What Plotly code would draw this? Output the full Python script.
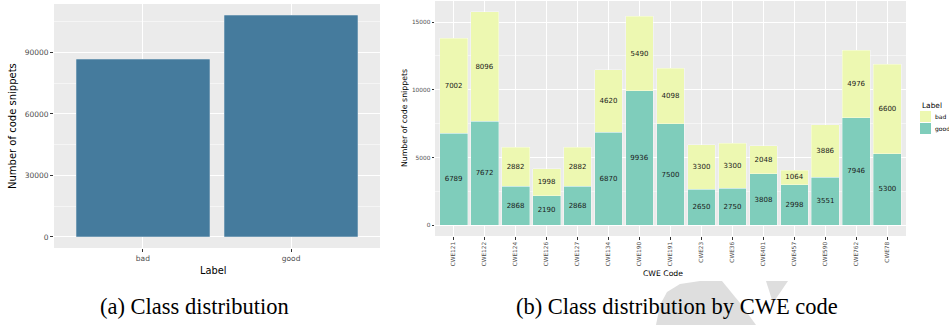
import plotly.graph_objects as go

# ---- data -----------------------------------------------------------------
labels = ["bad", "good"]
label_counts = [86600, 108200]

cwe_codes = ["CWE121", "CWE122", "CWE124", "CWE126", "CWE127", "CWE134",
             "CWE190", "CWE191", "CWE23", "CWE36", "CWE401", "CWE457",
             "CWE590", "CWE762", "CWE78"]
good_counts = [6789, 7672, 2868, 2190, 2868, 6870, 9936, 7500,
               2650, 2750, 3808, 2998, 3551, 7946, 5300]
bad_counts = [7002, 8096, 2882, 1998, 2882, 4620, 5490, 4098,
              3300, 3300, 2048, 1064, 3886, 4976, 6600]

captions = ["(a) Class distribution", "(b) Class distribution by CWE code"]

# ---- styling ----------------------------------------------------------------
W, H = 949, 325
PANEL_BG = "#EBEBEB"
BAR_BLUE = "#457B9D"
GOOD_COL = "#7FCDBB"
BAD_COL = "#EDF8B1"
SANS = "DejaVu Sans"
SERIF = "Liberation Serif"
TICK_GREY = "#4D4D4D"


def px(x):
    return x / W


def py(y):
    return 1 - y / H


fig = go.Figure()

# (a) overall class distribution
fig.add_trace(go.Bar(
    x=labels, y=label_counts, xaxis="x", yaxis="y",
    marker=dict(color=BAR_BLUE, line=dict(color="rgba(255,255,255,0.3)", width=0.8)),
    width=0.9, showlegend=False, hoverinfo="x+y",
))

# (b) stacked counts per CWE code: good at the bottom, bad on top
for name, vals, col in (("good", good_counts, GOOD_COL), ("bad", bad_counts, BAD_COL)):
    fig.add_trace(go.Bar(
        x=cwe_codes, y=vals, name=name, xaxis="x2", yaxis="y2",
        marker=dict(color=col, line=dict(color="rgba(255,255,255,0.45)", width=0.8)),
        width=0.9, showlegend=False,
        texttemplate="%{y:.0f}", textposition="inside", insidetextanchor="middle",
        textangle=0, constraintext="none",
        textfont=dict(family=SANS, size=7, color="#1A1A1A"),
    ))

max_a = max(label_counts)
totals = [g + b for g, b in zip(good_counts, bad_counts)]
max_b = max(totals)

common_x = dict(type="category", showgrid=True, gridcolor="white", gridwidth=1,
                ticks="outside", tickcolor="#333333", tickwidth=0.8,
                zeroline=False, showline=False, fixedrange=True)
common_y = dict(showgrid=True, gridcolor="white", gridwidth=1, ticks="outside",
                tickcolor="#333333", tickwidth=0.8, zeroline=False,
                showline=False, tickmode="linear", tick0=0, tickformat="d",
                fixedrange=True)

fig.update_layout(
    width=W, height=H,
    margin=dict(l=0, r=0, t=0, b=0),
    paper_bgcolor="white",
    plot_bgcolor=PANEL_BG,
    barmode="stack",
    bargap=0.1,
    showlegend=False,
    xaxis=dict(common_x, domain=[px(54), px(380)], anchor="y",
               range=[-0.6, len(labels) - 0.4], ticklen=3,
               tickfont=dict(family=SANS, size=7.5, color=TICK_GREY)),
    yaxis=dict(common_y, domain=[py(248), py(4)], anchor="x",
               range=[-0.05 * max_a, 1.05 * max_a], dtick=30000, ticklen=3,
               minor=dict(dtick=15000, tick0=0, showgrid=True,
                          gridcolor="#F5F5F5", gridwidth=0.6, ticklen=0),
               tickfont=dict(family=SANS, size=7.5, color=TICK_GREY)),
    xaxis2=dict(common_x, domain=[px(435), px(906)], anchor="y2",
                range=[-0.6, len(cwe_codes) - 0.4], ticklen=2.5, tickangle=-90,
                gridwidth=0.8,
                tickfont=dict(family=SANS, size=5.8, color=TICK_GREY)),
    yaxis2=dict(common_y, domain=[py(236), py(1)], anchor="x2",
                range=[-0.05 * max_b, 1.05 * max_b], dtick=5000, ticklen=2.5,
                gridwidth=0.8,
                minor=dict(dtick=2500, tick0=0, showgrid=True,
                           gridcolor="#F5F5F5", gridwidth=0.5, ticklen=0),
                tickfont=dict(family=SANS, size=5.8, color=TICK_GREY)),
)

annotations = [
    # axis titles
    dict(text="Number of code snippets", x=px(13), y=py(126), textangle=-90,
         font=dict(family=SANS, size=10, color="black")),
    dict(text="Label", x=px(213), y=py(270), font=dict(family=SANS, size=9.8, color="black")),
    dict(text="Number of code snippets", x=px(404), y=py(118), textangle=-90,
         font=dict(family=SANS, size=7.8, color="black")),
    dict(text="CWE Code", x=px(663), y=py(273), font=dict(family=SANS, size=7.7, color="black")),
    # legend
    dict(text="Label", x=px(919.5), y=py(106), xanchor="left",
         font=dict(family=SANS, size=7.4, color="black")),
    dict(text="bad", x=px(933), y=py(116.5), xanchor="left",
         font=dict(family=SANS, size=6, color="black")),
    dict(text="good", x=px(933), y=py(128.5), xanchor="left",
         font=dict(family=SANS, size=6, color="black")),
    # captions
    dict(text=captions[0], x=px(194.5), y=py(306), font=dict(family=SERIF, size=22.5, color="black")),
    dict(text=captions[1], x=px(677), y=py(306), font=dict(family=SERIF, size=22.5, color="black")),
]
for a in annotations:
    a.update(xref="paper", yref="paper", showarrow=False)
    a.setdefault("xanchor", "center")
    a.setdefault("yanchor", "middle")
fig.update_layout(annotations=annotations)


def path(points):
    return "M " + " L ".join(f"{px(x):.5f},{py(y):.5f}" for x, y in points) + " Z"


shapes = [
    # legend keys
    dict(type="rect", x0=px(920), x1=px(931), y0=py(122), y1=py(111),
         fillcolor=BAD_COL, line=dict(width=0)),
    dict(type="rect", x0=px(920), x1=px(931), y0=py(134), y1=py(123),
         fillcolor=GOOD_COL, line=dict(width=0)),
    # faint page mark behind the second caption
    dict(type="path", layer="below",
         path=path([(656, 325), (660, 305), (667, 292), (680, 284), (700, 281),
                    (722, 281), (740, 303), (756, 325)]),
         fillcolor="#DEDEDE", line=dict(width=0)),
    dict(type="path", layer="below",
         path=path([(766, 281), (788, 281), (773, 303)]),
         fillcolor="#DEDEDE", line=dict(width=0)),
]
for s in shapes:
    s.update(xref="paper", yref="paper")
fig.update_layout(shapes=shapes)

fig.write_html("out.html")
